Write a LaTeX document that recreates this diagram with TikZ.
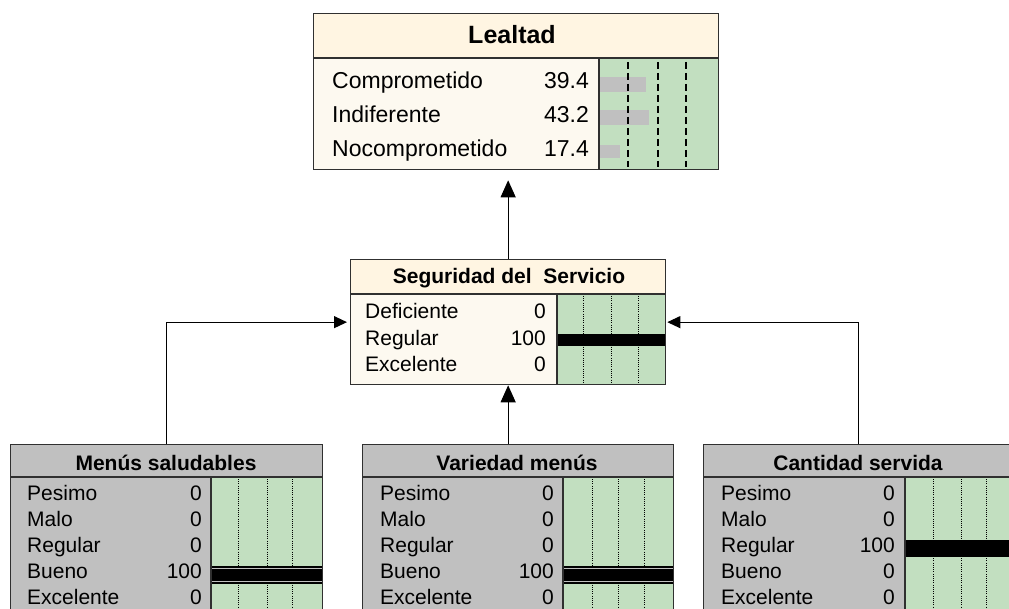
\documentclass[tikz,border=0pt]{standalone}
\usepackage{fontspec}
\setmainfont{Liberation Sans}
\usetikzlibrary{arrows.meta}
\definecolor{creamT}{HTML}{FFF5E2}
\definecolor{cream}{HTML}{FDF9F0}
\definecolor{grn}{HTML}{C2DFC0}
\definecolor{gry}{HTML}{C0C0C0}
\definecolor{bord}{HTML}{303030}
\begin{document}
\begin{tikzpicture}[x=1pt,y=-1pt,
  box/.style={draw=bord, line width=1.3pt, inner sep=0pt, anchor=north west},
  sep/.style={draw=bord, line width=1.8pt},
  lbl/.style={anchor=base west, inner sep=0pt},
  val/.style={anchor=base east, inner sep=0pt},
  ttl/.style={anchor=base, inner sep=0pt, font=\fontsize{21}{24}\selectfont\bfseries},
  big/.style={font=\fontsize{23}{26}\selectfont},
  sm/.style={font=\fontsize{21}{24}\selectfont},
  dashln/.style={draw=black, line width=1.8pt, dash pattern=on 7pt off 4pt},
  dotln/.style={draw=black, line width=0.8pt, dash pattern=on 1pt off 1.2pt},
  conn/.style={draw=black, line width=1.1pt},
  arrv/.style={conn, -{Triangle[length=17pt,width=15pt]}},
  arrh/.style={conn, -{Triangle[length=13pt,width=12pt]}},
  ]
\useasboundingbox (0,0) rectangle (1009,609);
\clip (0,0) rectangle (1009,609);
\fill[white] (0,0) rectangle (1009,609);

% ---------- Lealtad ----------
\fill[cream] (313,13) rectangle (718,169);
\fill[creamT] (313,13) rectangle (718,58);
\fill[grn] (599,58) rectangle (718,169);
\fill[gry] (600,77) rectangle (646,92);
\fill[gry] (600,110) rectangle (649,125);
\fill[gry] (600,145) rectangle (620,158);
\foreach \x in {628,658,686} \draw[dashln] (\x,62) -- (\x,167);
\node[box, minimum width=405pt, minimum height=156pt] (leal) at (313,13) {};
\draw[sep] (313,58) -- (718,58);
\draw[sep] (599,58) -- (599,169);
\node[ttl, font=\fontsize{25}{28}\selectfont\bfseries] (lealT) at (512,44) {Lealtad};
\node[lbl, big] (l1) at (332,89) {Comprometido};
\node[lbl, big] (l2) at (332,123) {Indiferente};
\node[lbl, big] (l3) at (332,157) {Nocomprometido};
\node[val, big] (v1) at (589,89) {39.4};
\node[val, big] (v2) at (589,123) {43.2};
\node[val, big] (v3) at (589,157) {17.4};

% ---------- Seguridad del Servicio ----------
\fill[cream] (350,259) rectangle (665,384);
\fill[creamT] (350,259) rectangle (665,294);
\fill[grn] (557,294) rectangle (665,384);
\foreach \x in {583,611,638} \draw[dotln] (\x,296) -- (\x,383);
\fill[black] (557,334) rectangle (665,346);
\node[box, minimum width=315pt, minimum height=125pt] (seg) at (350,259) {};
\draw[sep] (350,294) -- (665,294);
\draw[sep] (557,294) -- (557,384);
\node[ttl] (segT) at (509,284) {Seguridad del\ \ Servicio};
\node[lbl, sm] (s1) at (365,319) {Deficiente};
\node[lbl, sm] (s2) at (365,346) {Regular};
\node[lbl, sm] (s3) at (365,372) {Excelente};
\node[val, sm] (sv1) at (546,319) {0};
\node[val, sm] (sv2) at (546,346) {100};
\node[val, sm] (sv3) at (546,372) {0};

% ---------- Menús saludables ----------
\fill[gry] (10,444) rectangle (322,640);
\fill[grn] (211,477) rectangle (322,640);
\foreach \x in {238,267,292} \draw[dotln] (\x,479) -- (\x,640);
\fill[black] (211,566) rectangle (322,584);
\draw[gry, line width=0.8pt] (211,568.5) -- (322,568.5) (211,581.5) -- (322,581.5);
\node[box, minimum width=312pt, minimum height=196pt] (men) at (10,444) {};
\draw[sep] (10,477) -- (322,477);
\draw[sep] (211,477) -- (211,640);
\node[ttl] (menT) at (166,470) {Menús saludables};
\node[lbl, sm] (m1) at (27,500) {Pesimo};
\node[lbl, sm] (m2) at (27,526) {Malo};
\node[lbl, sm] (m3) at (27,552) {Regular};
\node[lbl, sm] (m4) at (27,578) {Bueno};
\node[lbl, sm] (m5) at (27,604) {Excelente};
\node[val, sm] (mv1) at (202,500) {0};
\node[val, sm] (mv2) at (202,526) {0};
\node[val, sm] (mv3) at (202,552) {0};
\node[val, sm] (mv4) at (202,578) {100};
\node[val, sm] (mv5) at (202,604) {0};

% ---------- Variedad menús ----------
\fill[gry] (362,444) rectangle (673,640);
\fill[grn] (563,477) rectangle (673,640);
\foreach \x in {592,618,644} \draw[dotln] (\x,479) -- (\x,640);
\fill[black] (563,566) rectangle (673,584);
\draw[gry, line width=0.8pt] (563,568.5) -- (673,568.5) (563,581.5) -- (673,581.5);
\node[box, minimum width=311pt, minimum height=196pt] (var) at (362,444) {};
\draw[sep] (362,477) -- (673,477);
\draw[sep] (563,477) -- (563,640);
\node[ttl] (varT) at (517,470) {Variedad menús};
\node[lbl, sm] (w1) at (380,500) {Pesimo};
\node[lbl, sm] (w2) at (380,526) {Malo};
\node[lbl, sm] (w3) at (380,552) {Regular};
\node[lbl, sm] (w4) at (380,578) {Bueno};
\node[lbl, sm] (w5) at (380,604) {Excelente};
\node[val, sm] (wv1) at (554,500) {0};
\node[val, sm] (wv2) at (554,526) {0};
\node[val, sm] (wv3) at (554,552) {0};
\node[val, sm] (wv4) at (554,578) {100};
\node[val, sm] (wv5) at (554,604) {0};

% ---------- Cantidad servida ----------
\fill[gry] (703,444) rectangle (1013,640);
\fill[grn] (905,477) rectangle (1013,640);
\foreach \x in {933,961,986} \draw[dotln] (\x,479) -- (\x,640);
\fill[black] (905,540) rectangle (1013,557);
\node[box, minimum width=310pt, minimum height=196pt] (can) at (703,444) {};
\draw[sep] (703,477) -- (1013,477);
\draw[sep] (905,477) -- (905,640);
\node[ttl] (canT) at (858,470) {Cantidad servida};
\node[lbl, sm] (c1) at (721,500) {Pesimo};
\node[lbl, sm] (c2) at (721,526) {Malo};
\node[lbl, sm] (c3) at (721,552) {Regular};
\node[lbl, sm] (c4) at (721,578) {Bueno};
\node[lbl, sm] (c5) at (721,604) {Excelente};
\node[val, sm] (cv1) at (895,500) {0};
\node[val, sm] (cv2) at (895,526) {0};
\node[val, sm] (cv3) at (895,552) {100};
\node[val, sm] (cv4) at (895,578) {0};
\node[val, sm] (cv5) at (895,604) {0};

% ---------- connectors ----------
\draw[arrv, shorten >=10pt] (seg.north) -- (seg.north |- leal.south);
\draw[arrv] (seg.south |- var.north) -- (seg.south);
\draw[arrh, shorten >=3pt] (men.north) |- (seg.west);
\draw[arrh, shorten >=1pt] (can.north) |- (seg.east);
\end{tikzpicture}
\end{document}
